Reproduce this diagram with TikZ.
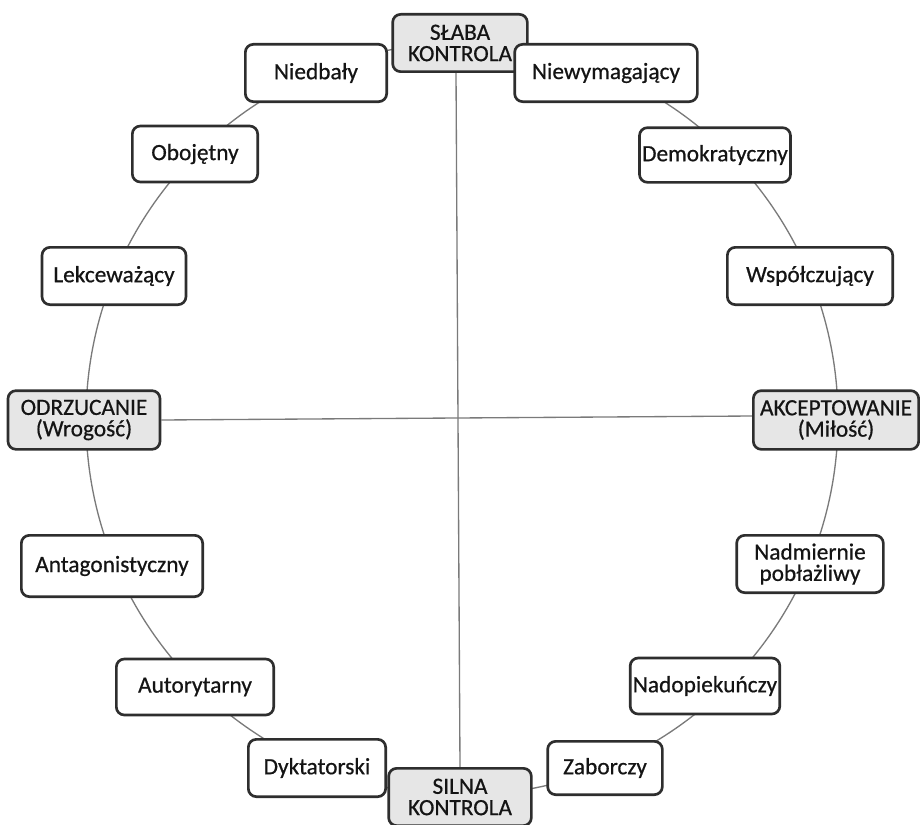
\documentclass[tikz,border=0pt]{standalone}
\usepackage{fontspec}
\setmainfont{Carlito}
\newfontfamily\labfont{Carlito}[FakeBold=0.6]
\usetikzlibrary{backgrounds}
\definecolor{edge}{HTML}{2E2E2E}
\definecolor{ring}{HTML}{7A7A7A}
\definecolor{axisfill}{HTML}{E6E6E6}
\tikzset{
  box/.style={draw=edge, line width=2pt, rounded corners=6pt, fill=white,
    minimum height=43pt, inner sep=2pt, align=center,
    font=\labfont\fontsize{17.5}{19}\selectfont, text=black!92},
  axisbox/.style={box, fill=axisfill},
  ringline/.style={draw=ring, line width=1pt},
}
\begin{document}
\begin{tikzpicture}[x=0.75pt, y=-0.75pt]
\useasboundingbox (0,0) rectangle (920,824);
% axis nodes
\node[axisbox, minimum width=101pt] (slaba) at (460,43) {SŁABA\\[-3pt]KONTROLA};
\node[axisbox, minimum width=107pt] (silna) at (460,797) {SILNA\\[-3pt]KONTROLA};
\node[axisbox, minimum width=114pt, minimum height=44pt] (odrz) at (84,420) {ODRZUCANIE\\[-3pt](Wrogość)};
\node[axisbox, minimum width=124pt, minimum height=44pt] (akc) at (836,420) {AKCEPTOWANIE\\[-3pt](Miłość)};
% ring nodes
\node[box, minimum width=137pt] (niewym) at (606,73) {Niewymagający};
\node[box, minimum width=106pt] (niedb) at (316,73) {Niedbały};
\node[box, minimum width=110pt, minimum height=41pt] (demo) at (715,155) {Demokratyczny};
\node[box, minimum width=94pt, minimum height=42pt] (oboj) at (195,154) {Obojętny};
\node[box, minimum width=108pt] (lekc) at (114,276) {Lekceważący};
\node[box, minimum width=124pt] (wspol) at (810,276) {Współczujący};
\node[box, minimum width=136pt, minimum height=46pt] (antag) at (112,566) {Antagonistyczny};
\node[box, minimum width=110pt] (nadm) at (810,564) {Nadmiernie\\[-3pt]pobłażliwy};
\node[box, minimum width=118pt, minimum height=42pt] (autor) at (195,687) {Autorytarny};
\node[box, minimum width=109pt, minimum height=42pt] (nadop) at (705,686) {Nadopiekuńczy};
\node[box, minimum width=103pt] (dykt) at (317,768) {Dyktatorski};
\node[box, minimum width=86pt, minimum height=40pt] (zabor) at (605,768) {Zaborczy};
\begin{scope}[on background layer]
  \coordinate (ctr) at (462,419);
  \draw[ringline] (ctr) circle[radius=376];
  \draw[ringline] ([xshift=-3pt]slaba.south) -- (silna.north);
  \draw[ringline] (odrz.east) -- ([yshift=3pt]akc.west);
\end{scope}
\end{tikzpicture}
\end{document}
